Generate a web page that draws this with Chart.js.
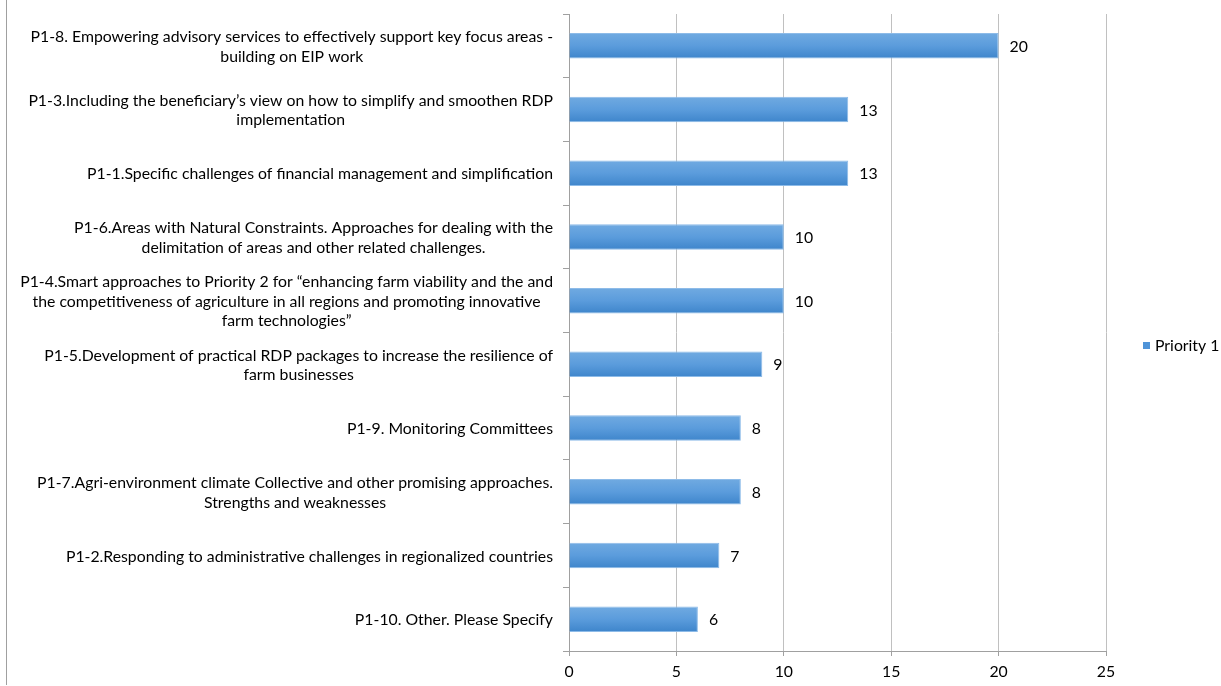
<!DOCTYPE html>
<html>
<head>
<meta charset="utf-8">
<script src="https://cdn.jsdelivr.net/npm/chart.js@4.4.0/dist/chart.umd.min.js"></script>
<style>
  html, body { margin: 0; padding: 0; background: #fff; }
  #wrap { position: relative; width: 1221px; height: 686px; }
  #frame { position: absolute; left: 6px; top: 0; width: 1px; height: 685px; background: #a0a0a0; }
</style>
</head>
<body>
<div id="wrap">
  <canvas id="chart" width="1221" height="686"></canvas>
  <div id="frame"></div>
</div>
<script>
const categories = [
  ["P1-8. Empowering advisory services to effectively support key focus areas -", "building on EIP work"],
  ["P1-3.Including the beneficiary\u2019s view on how to simplify and smoothen RDP", "implementation"],
  ["P1-1.Specific challenges of financial management and simplification"],
  ["P1-6.Areas with Natural Constraints. Approaches for dealing with the", "delimitation of areas and other related challenges."],
  ["P1-4.Smart approaches to Priority 2 for \u201cenhancing farm viability and the and", "the competitiveness of agriculture in all regions and promoting innovative", "farm technologies\u201d"],
  ["P1-5.Development of practical RDP packages to increase the resilience of", "farm businesses"],
  ["P1-9. Monitoring Committees"],
  ["P1-7.Agri-environment climate Collective and other promising approaches.", "Strengths and weaknesses"],
  ["P1-2.Responding to administrative challenges in regionalized countries"],
  ["P1-10. Other. Please Specify"]
];
const priority1 = [20, 13, 13, 10, 10, 9, 8, 8, 7, 6];
const seriesName = "Priority 1";
const xTicks = [0, 5, 10, 15, 20, 25];

const FONT = "Lato, 'Open Sans', sans-serif";
const BAR_PCT = 0.4;

// vertical gradient per bar, lighter at top
function barFill(c) {
  const chart = c.chart;
  const y = chart.scales.y;
  if (!y || c.dataIndex === undefined) return "#5a9bdb";
  const cy = y.getPixelForValue(c.dataIndex);
  const half = (y.height / categories.length) * BAR_PCT / 2;
  if (!isFinite(cy) || !isFinite(half) || half <= 0) return "#5a9bdb";
  const g = chart.ctx.createLinearGradient(0, cy - half, 0, cy + half);
  g.addColorStop(0, "#70aae1");
  g.addColorStop(0.5, "#5b9cdc");
  g.addColorStop(1, "#3e85cb");
  return g;
}

const extras = {
  id: "extras",
  afterDraw(chart) {
    const ctx = chart.ctx;
    const y = chart.scales.y;
    ctx.save();
    ctx.font = "15.8px " + FONT;
    ctx.fillStyle = "#000";
    ctx.textBaseline = "middle";
    ctx.textAlign = "center";
    const lineH = 19.5;
    const rightEdge = y.right - 16;
    categories.forEach((lines, i) => {
      const cy = y.getPixelForTick(i) + 1;
      const w = Math.max(...lines.map(l => ctx.measureText(l).width));
      const cx = rightEdge - w / 2;
      lines.forEach((l, k) => {
        ctx.fillText(l, cx, cy + (k - (lines.length - 1) / 2) * lineH);
      });
    });
    // value labels
    ctx.textAlign = "left";
    chart.getDatasetMeta(0).data.forEach((el, i) => {
      ctx.fillText(String(priority1[i]), el.x + 11, el.y + 1);
    });
    // legend
    const ly = 346;
    ctx.fillStyle = "#4f94d8";
    ctx.fillRect(1143, ly - 4, 7, 7);
    ctx.fillStyle = "#000";
    ctx.fillText(seriesName, 1155, ly);
    ctx.restore();
  }
};

new Chart(document.getElementById("chart"), {
  type: "bar",
  data: {
    labels: categories,
    datasets: [{
      label: seriesName,
      data: priority1,
      backgroundColor: barFill,
      borderColor: "#8dbbe8",
      borderWidth: 1,
      categoryPercentage: 1,
      barPercentage: BAR_PCT
    }]
  },
  options: {
    indexAxis: "y",
    responsive: false,
    animation: false,
    layout: { padding: { top: 14, right: 115, left: 0, bottom: 0 } },
    plugins: { legend: { display: false }, tooltip: { enabled: false } },
    scales: {
      x: {
        min: 0, max: 25,
        afterBuildTicks: s => { s.ticks = xTicks.map(v => ({ value: v })); },
        afterFit: s => { s.height = 35; },
        grid: { color: "#c0c0c0", lineWidth: 1, tickLength: 5, tickColor: "#a0a0a0" },
        border: { color: "#a0a0a0" },
        ticks: { color: "#000", padding: 6, font: { family: FONT, size: 15.8 } }
      },
      y: {
        afterFit: s => { s.width = 569; },
        grid: { drawOnChartArea: false, tickLength: 6, color: "#a0a0a0", offset: true },
        border: { color: "#a0a0a0" },
        ticks: { display: false }
      }
    }
  },
  plugins: [extras]
});
</script>
</body>
</html>
